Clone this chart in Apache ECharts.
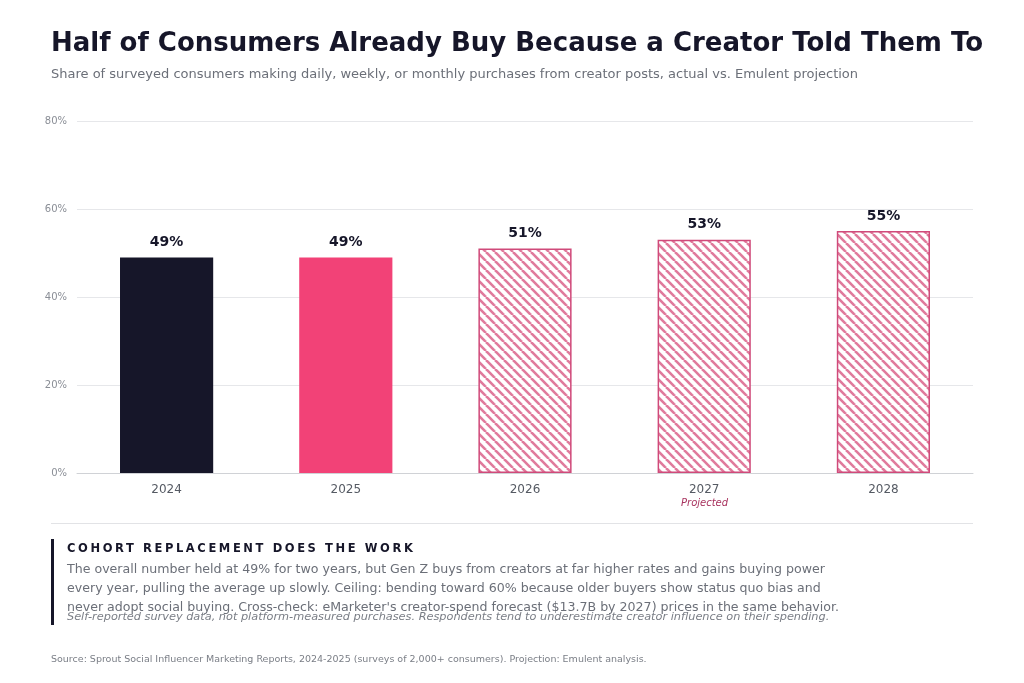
<!DOCTYPE html>
<html><head><meta charset="utf-8">
<script src="https://cdn.jsdelivr.net/npm/echarts@6/dist/echarts.min.js"></script>
<style>
body{margin:0;background:#fff;font-family:"DejaVu Sans",sans-serif}
#wrap{position:relative;width:1024px;height:683px}
#main{position:absolute;left:0;top:0;width:1024px;height:683px}
.t{position:absolute;white-space:nowrap}
</style></head><body>
<div id="wrap">
<div id="main"></div>
<div class="t" style="left:51px;top:27px;font-size:26px;font-weight:bold;color:#161629">Half of Consumers Already Buy Because a Creator Told Them To</div>
<div class="t" style="left:51px;top:66px;font-size:13px;color:#6b6f78">Share of surveyed consumers making daily, weekly, or monthly purchases from creator posts, actual vs. Emulent projection</div>
<div class="t" style="left:51px;top:523px;width:922px;border-top:1px solid #e2e3e6"></div>
<div class="t" style="left:51px;top:539px;width:3px;height:86px;background:#161629"></div>
<div class="t" style="left:67px;top:541px;font-size:11.5px;font-weight:bold;letter-spacing:2.6px;color:#161629">COHORT REPLACEMENT DOES THE WORK</div>
<div class="t" style="left:67px;top:559px;font-size:12.6px;line-height:19px;color:#6b6f78">The overall number held at 49% for two years, but Gen Z buys from creators at far higher rates and gains buying power<br>every year, pulling the average up slowly. Ceiling: bending toward 60% because older buyers show status quo bias and<br>never adopt social buying. Cross-check: eMarketer's creator-spend forecast ($13.7B by 2027) prices in the same behavior.</div>
<div class="t" style="left:67px;top:610px;font-size:11.3px;font-style:italic;color:#7a7e86">Self-reported survey data, not platform-measured purchases. Respondents tend to underestimate creator influence on their spending.</div>
<div class="t" style="left:51px;top:653px;font-size:9.5px;color:#7a7e86">Source: Sprout Social Influencer Marketing Reports, 2024-2025 (surveys of 2,000+ consumers). Projection: Emulent analysis.</div>
</div>
<script>
const years = ['2024', '2025', '2026', '2027', '2028']
const values = [49, 49, 51, 53, 55]
const projected = [false, false, true, true, true]

// diagonal stripe pattern for projected bars
const pc = document.createElement('canvas')
pc.width = 9; pc.height = 9
const ctx = pc.getContext('2d')
ctx.fillStyle = '#fff'; ctx.fillRect(0, 0, 9, 9)
ctx.strokeStyle = '#e07a9c'; ctx.lineWidth = 2.6
for (let o = -9; o <= 9; o += 9) {
  ctx.beginPath(); ctx.moveTo(o, 0); ctx.lineTo(o + 9, 9); ctx.stroke()
}

const chart = echarts.init(document.getElementById('main'))
chart.setOption({
  animation: false,
  grid: { left: 77, right: 51, top: 121, bottom: 210 },
  xAxis: {
    type: 'category', data: years,
    axisLine: { lineStyle: { color: '#d0d2d6' } },
    axisTick: { show: false },
    axisLabel: { color: '#555a63', fontSize: 12, margin: 11, fontFamily: 'DejaVu Sans' }
  },
  yAxis: {
    type: 'value', min: 0, max: 80, interval: 20,
    axisLabel: { formatter: '{value}%', color: '#8a8e96', fontSize: 10, fontFamily: 'DejaVu Sans', margin: 10 },
    splitLine: { lineStyle: { color: '#e6e7ea' } },
    axisLine: { show: false }, axisTick: { show: false }
  },
  series: [{
    type: 'bar', barWidth: '52%',
    data: values.map((v, i) => ({
      value: v,
      itemStyle: projected[i]
        ? { color: { image: pc, repeat: 'repeat' }, borderColor: '#d04a7a', borderWidth: 1.5 }
        : { color: i === 0 ? '#161629' : '#f24277' }
    })),
    label: {
      show: true, position: 'top', distance: 8, formatter: '{c}%',
      color: '#161629', fontSize: 14, fontWeight: 'bold', fontFamily: 'DejaVu Sans'
    }
  }],
  graphic: [{
    type: 'text', left: 681, top: 498,
    style: { text: 'Projected', fill: '#a8325e', fontSize: 10, fontStyle: 'italic', fontFamily: 'DejaVu Sans' }
  }]
})
</script>
</body></html>
